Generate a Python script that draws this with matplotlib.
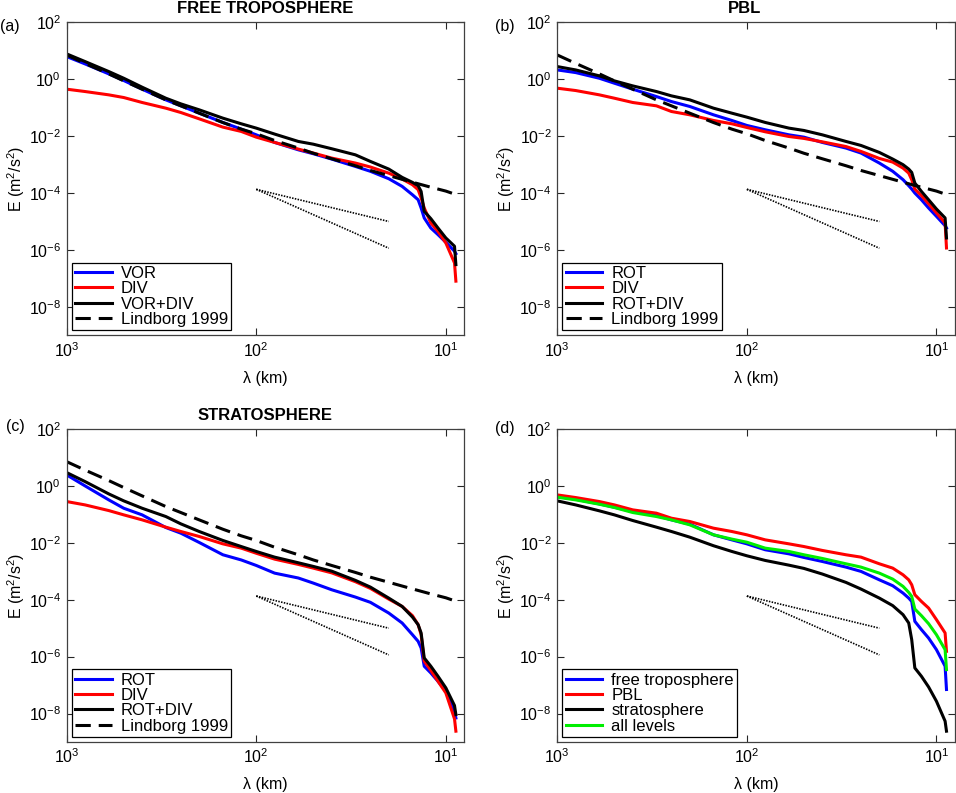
import matplotlib
matplotlib.use('Agg')
import matplotlib.pyplot as plt
from matplotlib.ticker import NullLocator

plt.rcParams['font.family'] = ['Liberation Sans', 'DejaVu Sans']
plt.rcParams['mathtext.fontset'] = 'custom'
plt.rcParams['mathtext.rm'] = 'Liberation Sans'
plt.rcParams['mathtext.it'] = 'Liberation Sans:italic'
plt.rcParams['mathtext.default'] = 'regular'

lam = [1000, 800, 600, 500, 400, 300, 250, 200, 150, 120, 100, 80, 60, 50,
       40, 30, 25, 20, 17, 15, 14, 13.5, 13, 12, 11, 10, 9, 8.85]

# (a) free troposphere
ft_vor = [6.24, 3.45, 1.54, 0.898, 0.446, 0.188, 0.116, 0.0641, 0.0302, 0.0176,
          0.0111, 6.0e-3, 3.3e-3, 2.4e-3, 1.56e-3, 8.6e-4, 5.8e-4, 3.18e-4, 1.71e-4,
          8.7e-5, 5.8e-5, 2.98e-5, 1.33e-5, 5.9e-6, 3.45e-6, 1.86e-6, 9.0e-7, 7.4e-7]
ft_div = [0.446, 0.369, 0.282, 0.227, 0.152, 0.096, 0.0676, 0.0405, 0.0207, 0.0146,
          9.2e-3, 6.0e-3, 3.5e-3, 2.54e-3, 1.69e-3, 1.13e-3, 8.2e-4, 5.0e-4, 3.1e-4,
          1.96e-4, 1.31e-4, 6.7e-5, 2.98e-5, 8.9e-6, 4.5e-6, 1.76e-6, 3.5e-7, 8.0e-8]
ft_tot = [7.74, 4.17, 1.86, 1.08, 0.524, 0.215, 0.136, 0.084, 0.0428, 0.0271,
          0.0191, 0.0118, 6.5e-3, 5.2e-3, 3.6e-3, 2.2e-3, 1.29e-3, 6.95e-4, 3.55e-4,
          2.37e-4, 1.81e-4, 1.14e-4, 2.28e-5, 1.26e-5, 5.9e-6, 2.64e-6, 1.35e-6, 3.05e-7]

# (b) PBL
pbl_rot = [2.12, 1.71, 1.08, 0.724, 0.446, 0.246, 0.164, 0.110, 0.0561, 0.0355,
           0.0237, 0.0167, 0.0111, 9.2e-3, 6.0e-3, 3.8e-3, 2.54e-3, 1.13e-3, 5.8e-4,
           2.94e-4, 1.81e-4, 1.38e-4, 1.0e-4, 5.8e-5, 2.98e-5, 1.52e-5, 7.1e-6, 5.9e-6]
pbl_div = [0.483, 0.400, 0.282, 0.215, 0.152, 0.116, 0.0733, 0.0561, 0.0355, 0.0271,
           0.0201, 0.0142, 9.7e-3, 8.3e-3, 6.3e-3, 4.3e-3, 2.9e-3, 1.64e-3, 1.22e-3,
           7.5e-4, 5.0e-4, 2.94e-4, 1.38e-4, 8.1e-5, 4.2e-5, 2.0e-5, 8.9e-6, 1.17e-6]
pbl_tot = [2.78, 2.12, 1.31, 0.875, 0.583, 0.369, 0.260, 0.188, 0.096, 0.0641,
           0.0464, 0.0302, 0.0191, 0.0158, 0.0111, 6.5e-3, 4.7e-3, 2.67e-3, 1.56e-3,
           9.9e-4, 6.95e-4, 5.3e-4, 2.24e-4, 1.14e-4, 5.8e-5, 2.75e-5, 1.33e-5, 2.64e-6]

# (c) stratosphere
st_rot = [2.43, 1.0, 0.323, 0.164, 0.096, 0.0345, 0.0218, 0.0103, 3.8e-3, 2.5e-3,
          1.60e-3, 8.6e-4, 5.8e-4, 3.84e-4, 2.24e-4, 1.24e-4, 8.1e-5, 3.4e-5, 1.52e-5,
          5.9e-6, 3.45e-6, 2.01e-6, 4.6e-7, 2.67e-7, 1.36e-7, 6.1e-8, 1.21e-8, 7.0e-9]
st_div = [0.282, 0.215, 0.136, 0.096, 0.0641, 0.0355, 0.0250, 0.0167, 9.2e-3, 6.5e-3,
          4.3e-3, 2.67e-3, 1.74e-3, 1.29e-3, 8.8e-4, 4.3e-4, 2.5e-4, 1.05e-4, 5.8e-5,
          2.75e-5, 1.33e-5, 5.9e-6, 6.9e-7, 3.3e-7, 1.36e-7, 5.3e-8, 6.5e-9, 2.4e-9]
st_tot = [2.94, 1.42, 0.524, 0.298, 0.164, 0.0839, 0.0464, 0.0250, 0.0121, 7.4e-3,
          4.97e-3, 3.14e-3, 1.99e-3, 1.48e-3, 1.01e-3, 4.8e-4, 2.78e-4, 1.14e-4, 5.8e-5,
          2.46e-5, 1.33e-5, 6.8e-6, 9.0e-7, 4.6e-7, 2.04e-7, 8.0e-8, 1.91e-8, 9.2e-9]

# (d) comparison of levels
all_ft = [0.423, 0.340, 0.233, 0.178, 0.126, 0.091, 0.0641, 0.0452, 0.0191, 0.0127,
          9.2e-3, 5.7e-3, 4.1e-3, 3.06e-3, 2.21e-3, 1.40e-3, 9.9e-4, 5.0e-4, 3.1e-4,
          1.71e-4, 1.14e-4, 8.7e-5, 1.74e-5, 8.9e-6, 4.5e-6, 1.76e-6, 4.6e-7, 7.0e-8]
all_pbl = [0.483, 0.390, 0.282, 0.215, 0.144, 0.110, 0.0733, 0.0561, 0.0327, 0.0250,
           0.0191, 0.0127, 9.2e-3, 7.4e-3, 5.4e-3, 3.8e-3, 3.14e-3, 1.83e-3, 1.29e-3,
           7.5e-4, 5.0e-4, 3.36e-4, 1.50e-4, 8.7e-5, 5.1e-5, 2.0e-5, 6.8e-6, 1.54e-6]
all_st = [0.298, 0.215, 0.133, 0.096, 0.0608, 0.0355, 0.0250, 0.0158, 7.9e-3, 4.97e-3,
          3.5e-3, 2.4e-3, 1.64e-3, 1.26e-3, 8.0e-4, 4.06e-4, 2.37e-4, 1.14e-4, 6.2e-5,
          2.98e-5, 1.52e-5, 3.94e-6, 4.0e-7, 2.04e-7, 8.6e-8, 2.71e-8, 5.4e-9, 2.4e-9]
all_lev = [0.400, 0.323, 0.227, 0.174, 0.116, 0.0839, 0.0641, 0.0428, 0.0191, 0.0135,
           0.0105, 6.5e-3, 4.97e-3, 3.8e-3, 2.82e-3, 1.83e-3, 1.40e-3, 8.6e-4, 5.3e-4,
           2.94e-4, 1.81e-4, 1.31e-4, 4.7e-5, 2.75e-5, 1.44e-5, 5.9e-6, 1.76e-6, 3.5e-7]

# Lindborg 1999 fit
lind_lam = [1000, 800, 600, 500, 400, 300, 250, 200, 150, 120, 100, 80, 60, 50,
            40, 30, 25, 20, 15, 12, 10, 9]
lind_e = [7.1, 3.6, 1.54, 0.875, 0.446, 0.188, 0.116, 0.064, 0.030, 0.0176, 0.0121,
          7.0e-3, 3.8e-3, 2.5e-3, 1.6e-3, 9.1e-4, 6.2e-4, 4.1e-4, 2.4e-4, 1.6e-4,
          1.17e-4, 9.2e-5]

# reference slopes (k^-5/3 and k^-3)
ref_lam = [100, 20]
ref_53 = [1.35e-4, 1.0e-5]
ref_3 = [1.35e-4, 1.15e-6]

W, H = 956, 793
fig = plt.figure(figsize=(W / 100, H / 100), dpi=100)

LW = 2.2
DASH = (5, 2.6)


def make_axes(left, top, tag, tagx, tagy, title=None, title_x=0.5):
    ax = fig.add_axes([left / W, 1 - (top + 313) / H, 397.5 / W, 313 / H])
    ax.set_xscale('log')
    ax.set_yscale('log')
    ax.set_xlim(1000, 8.0)
    ax.set_ylim(1e-9, 1e2)
    ax.set_xticks([1000, 100, 10])
    ax.set_xticklabels(['$10^{3}$', '$10^{2}$', '$10^{1}$'])
    yt = [1e2, 1e0, 1e-2, 1e-4, 1e-6, 1e-8]
    ax.set_yticks(yt)
    ax.set_yticklabels(['$10^{%d}$' % p for p in [2, 0, -2, -4, -6, -8]])
    ax.xaxis.set_minor_locator(NullLocator())
    ax.yaxis.set_minor_locator(NullLocator())
    ax.tick_params(direction='in', length=5, width=0.8, top=True, right=True,
                   labelsize=11.5, pad=4, colors='0.15', labelcolor='k')
    for s in ax.spines.values():
        s.set_linewidth(0.9)
        s.set_color('0.25')
    ax.set_xlabel('λ (km)', fontsize=11.5, labelpad=8)
    ax.set_ylabel('E (m$^2$/s$^2$)', fontsize=11.5, labelpad=1.5)
    if title:
        ax.set_title(title, fontsize=12, fontweight='bold', pad=6.5, x=title_x)
    fig.text(tagx / W, 1 - tagy / H, tag, fontsize=11.5, va='center', ha='left')
    ax.plot(ref_lam, ref_53, color='k', lw=1.2, ls=(0, (0.9, 0.8)))
    ax.plot(ref_lam, ref_3, color='k', lw=1.2, ls=(0, (0.9, 0.8)))
    return ax


def legend(ax):
    leg = ax.legend(loc='lower left', fontsize=12, frameon=True, fancybox=False,
                    borderaxespad=0.3, borderpad=0.2, labelspacing=0.02,
                    handlelength=2.2, handletextpad=0.55)
    leg.get_frame().set_edgecolor('k')
    leg.get_frame().set_linewidth(0.9)
    leg.get_frame().set_alpha(1)


# (a)
ax = make_axes(66.7, 22.3, '(a)', 0, 26, 'FREE TROPOSPHERE')
ax.plot(lam, ft_vor, color='b', lw=LW, label='VOR')
ax.plot(lam, ft_div, color='r', lw=LW, label='DIV')
ax.plot(lam, ft_tot, color='k', lw=LW, label='VOR+DIV')
ax.plot(lind_lam, lind_e, color='k', lw=LW, dashes=DASH, label='Lindborg 1999')
legend(ax)

# (b)
ax = make_axes(557.3, 22.3, '(b)', 495, 26, 'PBL', title_x=0.472)
ax.plot(lam, pbl_rot, color='b', lw=LW, label='ROT')
ax.plot(lam, pbl_div, color='r', lw=LW, label='DIV')
ax.plot(lam, pbl_tot, color='k', lw=LW, label='ROT+DIV')
ax.plot(lind_lam, lind_e, color='k', lw=LW, dashes=DASH, label='Lindborg 1999')
legend(ax)

# (c)
ax = make_axes(66.7, 429, '(c)', 6, 427, 'STRATOSPHERE')
ax.plot(lam, st_rot, color='b', lw=LW, label='ROT')
ax.plot(lam, st_div, color='r', lw=LW, label='DIV')
ax.plot(lam, st_tot, color='k', lw=LW, label='ROT+DIV')
ax.plot(lind_lam, lind_e, color='k', lw=LW, dashes=DASH, label='Lindborg 1999')
legend(ax)

# (d)
ax = make_axes(557.3, 429, '(d)', 495, 428)
ax.plot(lam, all_ft, color='b', lw=LW, label='free troposphere')
ax.plot(lam, all_pbl, color='r', lw=LW, label='PBL')
ax.plot(lam, all_st, color='k', lw=LW, label='stratosphere')
ax.plot(lam, all_lev, color='#00ee00', lw=LW, label='all levels')
legend(ax)

fig.savefig('out.png', dpi=100)
